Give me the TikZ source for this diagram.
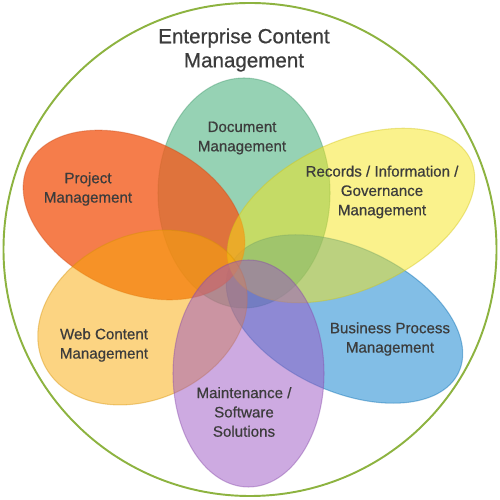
\documentclass[tikz,border=0pt]{standalone}
\usepackage{fontspec}
\usepackage{tkz-euclide}
\setmainfont{Liberation Sans}
\newfontfamily\lblfont{Liberation Sans}[FakeBold=0.6]
\tikzset{>=stealth}

\definecolor{ringgreen}{RGB}{141,179,64}
\definecolor{txtgray}{RGB}{60,60,60}
\definecolor{petgreen}{RGB}{80,180,130}
\definecolor{petred}{RGB}{242,92,30}
\definecolor{petyellow}{RGB}{245,229,25}
\definecolor{petblue}{RGB}{5,125,205}
\definecolor{petorange}{RGB}{249,169,5}
\definecolor{petpurple}{RGB}{155,85,195}

\tikzset{
  petal/.style={fill=#1, draw=#1!85!black, draw opacity=0.4, line width=0.6pt},
  lbl/.style={text=txtgray, align=center, font=\lblfont\fontsize{8.6pt}{11pt}\selectfont},
}

\begin{document}
\begin{tikzpicture}
\useasboundingbox (0,0) rectangle (10,10);
\tkzDefPoints{5/5.01/O, 4.88/6.14/D, 2.68/5.70/P, 7.02/5.69/R, 6.89/3.62/B, 2.85/3.65/W, 4.97/2.53/M}
\draw[ringgreen, line width=1.1pt] (O) circle (4.93);
% petals
\path[petal=petgreen, fill opacity=0.6] (D) ellipse (1.72 and 2.30);
\path[petal=petblue, fill opacity=0.5, rotate around={-25:(B)}] (B) ellipse (2.52 and 1.44);
\path[petal=petred, fill opacity=0.8, rotate around={-25:(P)}] (P) ellipse (2.34 and 1.52);
\path[petal=petyellow, fill opacity=0.5, rotate around={25:(R)}] (R) ellipse (2.64 and 1.48);
\path[petal=petorange, fill opacity=0.5, rotate around={25:(W)}] (W) ellipse (2.18 and 1.64);
\path[petal=petpurple, fill opacity=0.5] (M) ellipse (1.51 and 2.27);
% labels
\node[text=txtgray, align=center, font=\lblfont\fontsize{11.7pt}{13.7pt}\selectfont] (title) at (4.88,9.0) {Enterprise Content\\Management};
\node[lbl] (doc) at (4.84,7.24) {Document\\Management};
\node[lbl] (proj) at (1.76,6.22) {Project\\Management};
\node[lbl] (rec) at (7.64,6.16) {Records / Information /\\Governance\\Management};
\node[lbl] (web) at (2.08,3.10) {Web Content\\Management};
\node[lbl] (bpm) at (7.80,3.22) {Business Process\\Management};
\node[lbl] (mnt) at (4.88,1.76) {Maintenance /\\Software\\Solutions};
\end{tikzpicture}
\end{document}
